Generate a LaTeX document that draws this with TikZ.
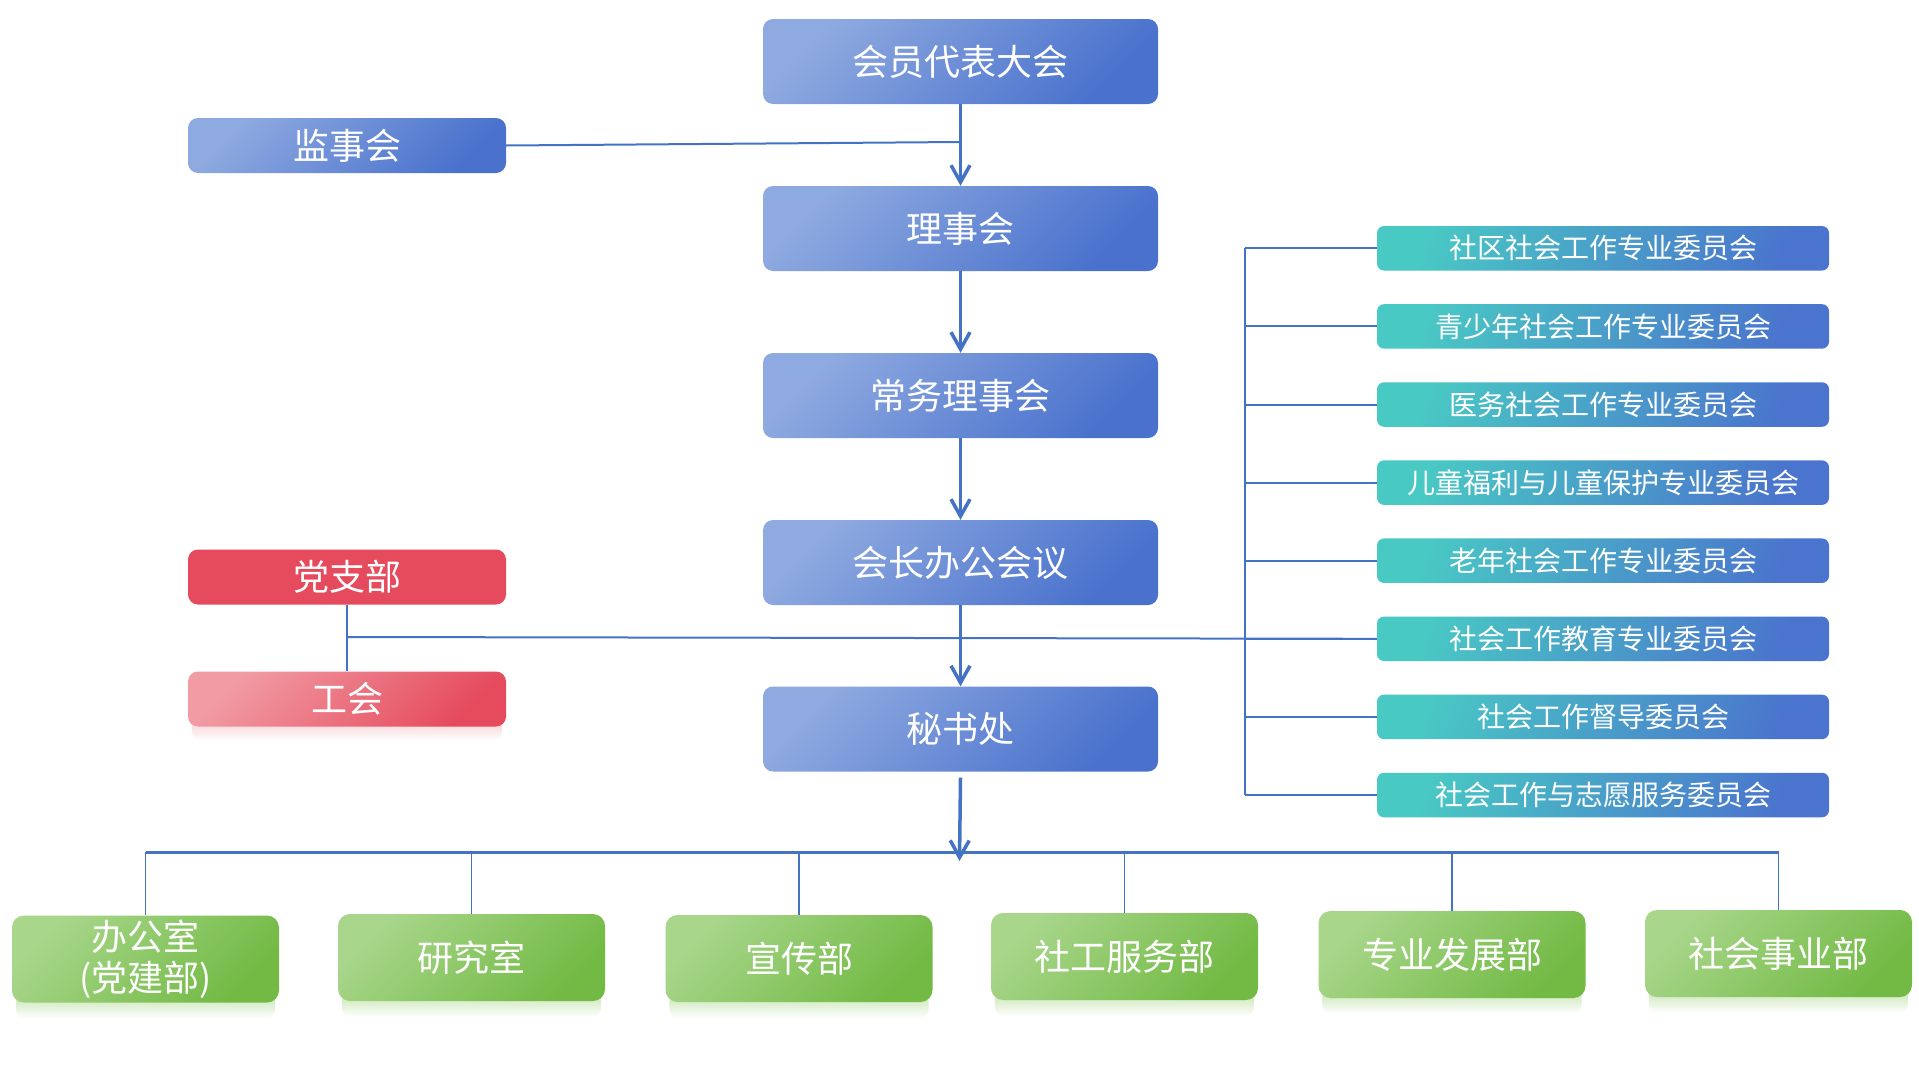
\documentclass[tikz,border=0pt]{standalone}
\usepackage{fontspec}
\newfontfamily\cjk{Noto Sans CJK SC}
\usetikzlibrary{arrows.meta,backgrounds}
\definecolor{blueL}{HTML}{8FAAE0}
\definecolor{blueD}{HTML}{4A72CD}
\definecolor{tealL}{HTML}{49C9C4}
\definecolor{tealD}{HTML}{4A74CD}
\definecolor{redA}{HTML}{E54B5D}
\definecolor{pinkL}{HTML}{F19CA4}
\definecolor{greenL}{HTML}{A8D68B}
\definecolor{greenD}{HTML}{72BA44}
\definecolor{gshadow}{HTML}{C2E2AC}
\definecolor{pshadow}{HTML}{F6C9CE}
\definecolor{lineblue}{HTML}{4472C4}
\begin{document}
\begin{tikzpicture}[x=1pt,y=-1pt,
  basebox/.style={rounded corners=10pt, inner sep=0pt, text=white, align=center},
  mainbox/.style={basebox, minimum width=395pt, minimum height=85pt,
     top color=blueL, bottom color=blueD, shading angle=45,
     font=\cjk\fontsize{36}{40}\selectfont},
  sidebox/.style={basebox, minimum width=318pt, minimum height=55pt,
     font=\cjk\fontsize{36}{40}\selectfont},
  combox/.style={basebox, rounded corners=7pt, minimum width=452pt, minimum height=44.5pt,
     top color=tealL, bottom color=tealD, shading angle=70,
     font=\cjk\fontsize{28}{32}\selectfont},
  depbox/.style={basebox, rounded corners=12pt, minimum width=267pt, minimum height=87pt,
     top color=greenL, bottom color=greenD, shading angle=45,
     font=\cjk\fontsize{36}{41}\selectfont},
  arr/.style={draw=lineblue, line width=3.5pt, -{Straight Barb[length=17pt,width=19pt]}},
  thinline/.style={draw=lineblue, line width=2pt},
  dropline/.style={draw=lineblue, line width=1.5pt},
  busline/.style={draw=lineblue, line width=3pt}
]
\useasboundingbox (0,0) rectangle (1919,1079);

% main chain
\node[mainbox] (hy) at (960.5,61.5) {会员代表大会};
\node[mainbox] (lsh) at (960.5,228.5) {理事会};
\node[mainbox] (cw) at (960.5,395.5) {常务理事会};
\node[mainbox] (hz) at (960.5,562.5) {会长办公会议};
\node[mainbox] (ms) at (960.5,729) {秘书处};

% side boxes
\node[sidebox, top color=blueL, bottom color=blueD, shading angle=45] (js) at (347,145.5) {监事会};
\node[sidebox, fill=redA] (dz) at (347,577) {党支部};
\node[sidebox, top color=pinkL, bottom color=redA, shading angle=45] (gh) at (347,699) {工会};

% committees
\foreach \i/\t in {1/社区社会工作专业委员会, 2/青少年社会工作专业委员会, 3/医务社会工作专业委员会,
  4/儿童福利与儿童保护专业委员会, 5/老年社会工作专业委员会, 6/社会工作教育专业委员会,
  7/社会工作督导委员会, 8/社会工作与志愿服务委员会}{
  \node[combox] (c\i) at (1603,{248.3+78.1*(\i-1)}) {\t};
}

% departments
\node[depbox] (b1) at (145.5,959) {办公室\\(党建部)};
\node[depbox] (b2) at (471.5,957.5) {研究室};
\node[depbox] (b3) at (799,958.5) {宣传部};
\node[depbox] (b4) at (1124.5,956.5) {社工服务部};
\node[depbox] (b5) at (1452,954.5) {专业发展部};
\node[depbox] (b6) at (1778.5,953.5) {社会事业部};

% background and shadows
\begin{scope}[on background layer]
  \fill[white] (0,0) rectangle (1919,1079);
  \foreach \b in {b1,b2,b3,b4,b5,b6}{
    \shade[top color=gshadow, bottom color=white, rounded corners=10pt]
      ([xshift=4pt,yshift=10pt]\b.south west) rectangle ([xshift=-4pt,yshift=-16pt]\b.south east);
  }
  \shade[top color=pshadow, bottom color=white, rounded corners=10pt]
      ([xshift=4pt,yshift=10pt]gh.south west) rectangle ([xshift=-4pt,yshift=-14pt]gh.south east);
\end{scope}

% connectors main
\coordinate (jm) at (960,142);
\draw[thinline] (js.east) -- (jm);
\draw[arr] (hy.south) -- (lsh.north);
\draw[arr] (lsh.south) -- (cw.north);
\draw[arr] (cw.south) -- (hz.north);
\draw[arr] (hz.south) -- (ms.north);

% party line
\coordinate (pj) at (347,637);
\draw[dropline] (dz.south) -- (gh.north);
\draw[thinline] (pj) -- (c6.west);

% committee bus
\coordinate (bustop) at (1245,248.3);
\coordinate (busbot) at (1245,794.8);
\draw[thinline] (bustop) -- (busbot);
\foreach \i in {1,...,8}{
  \draw[thinline] (c\i.west -| bustop) -- (c\i.west);
}

% bottom bus
\coordinate (bl) at (145.5,852);
\coordinate (br) at (1778.5,852);
\coordinate (busc) at (959.5,861);
\draw[busline] (bl) -- (br);
\foreach \b in {b1,b2,b3,b4,b5,b6}{
  \draw[dropline] (\b.north |- bl) -- (\b.north);
}
\draw[arr] ([yshift=-6pt]ms.south) -- (busc);
\end{tikzpicture}
\end{document}
